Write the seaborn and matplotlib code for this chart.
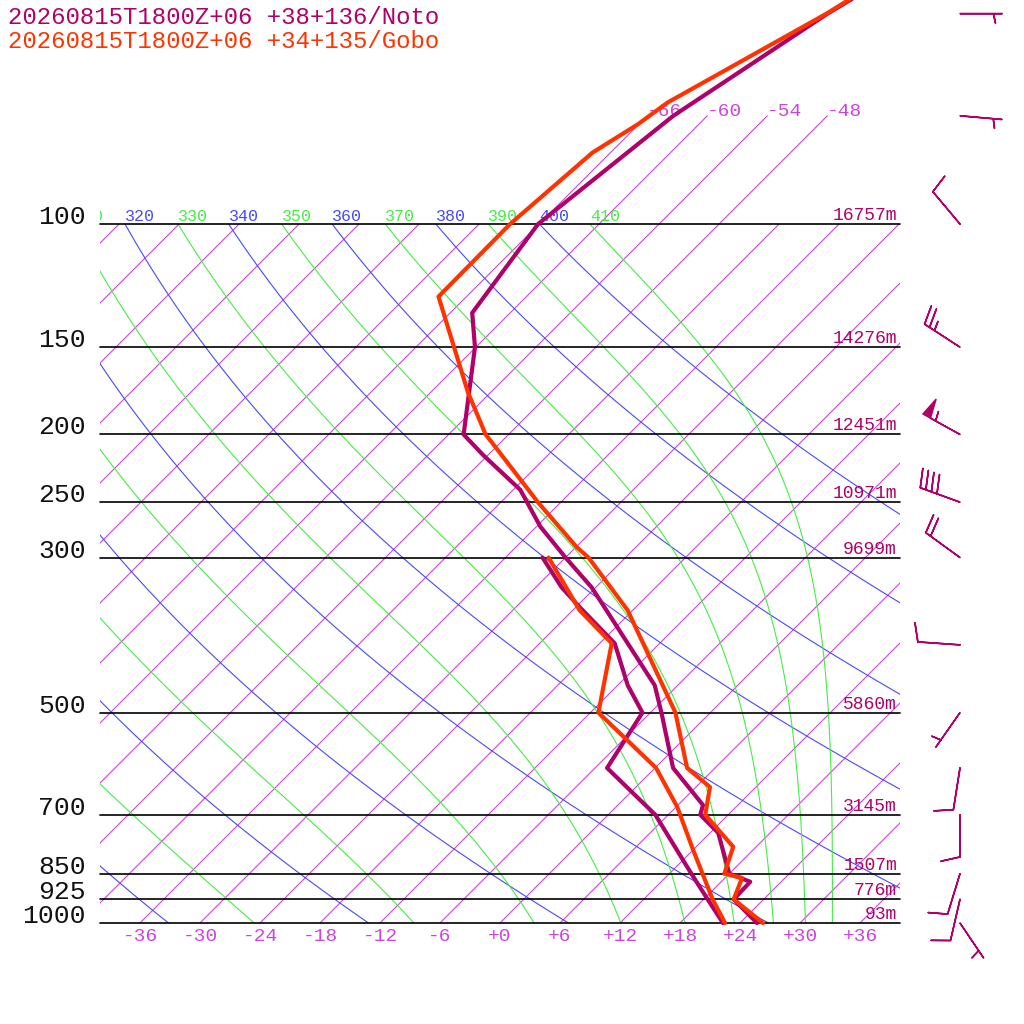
import numpy as np
import matplotlib
matplotlib.use('Agg')
import matplotlib.pyplot as plt
import matplotlib.transforms as mtransforms
from matplotlib.patches import Rectangle
import seaborn as sns

# x = T + SKEW*ln(1000/p): isotherms at 45 degrees
SKEW = 30.36

title_noto = '20260815T1800Z+06 +38+136/Noto'
title_gobo = '20260815T1800Z+06 +34+135/Gobo'

# Noto sounding
noto_t_p = [40, 50, 70, 100, 134, 150, 200, 214, 240, 271, 300, 331, 457, 500, 600, 678, 700, 743, 850, 873, 925, 1000]
noto_t = [-53.7, -58.2, -63.4, -66.1, -63.8, -60.1, -52.5, -48.5, -41.3, -35.6, -30.0, -24.4, -8.3, -4.9, 1.8, 8.5, 9.2, 12.8, 18.0, 20.9, 21.0, 25.7]
noto_td_p = [300, 331, 354, 398, 457, 500, 600, 700, 850, 925, 1000]
noto_td = [-32.3, -27.4, -23.5, -16.5, -11.0, -6.8, -4.8, 4.7, 14.2, 18.4, 22.3]

# Gobo sounding
gobo_t_p = [40, 50, 67, 72, 79, 100, 127, 174, 200, 206, 250, 290, 300, 357, 500, 600, 639, 700, 778, 850, 862, 925, 1000]
gobo_t = [-54.2, -58.3, -65.3, -66.1, -67.8, -68.9, -68.8, -56.3, -50.3, -48.7, -38.3, -29.9, -27.7, -18.5, -3.5, 3.2, 7.4, 9.7, 15.7, 17.5, 19.7, 21.0, 26.3]
gobo_td_p = [300, 357, 398, 500, 600, 682, 786, 925, 1000]
gobo_td = [-31.7, -23.3, -16.8, -11.2, 0.1, 6.1, 12.0, 18.9, 22.5]

# isobars and Noto heights
isobars = [100, 150, 200, 250, 300, 500, 700, 850, 925, 1000]
heights = ['16757m', '14276m', '12451m', '10971m', '9699m', '5860m', '3145m', '1507m', '776m', '93m']

# Noto winds (direction from, knots)
wind_p = [50, 70, 100, 150, 200, 250, 300, 400, 500, 600, 700, 850, 925, 1000]
wind_dir = [90, 95, 320, 303, 299, 290, 306, 274, 215, 189, 180, 197, 193, 146]
wind_spd = [5, 5, 10, 25, 55, 40, 20, 10, 5, 10, 10, 10, 10, 5]

isotherms = list(range(-114, 37, 6))
isotherm_labels = list(range(-36, 37, 6))
upper_isotherms = [-66, -60, -54, -48]
dry_thetas = list(range(240, 401, 20))
moist_thetas = list(range(250, 411, 20))

c_noto = '#b0006a'
c_gobo = '#ff3300'
c_iso = '#cc44dd'
c_dry = '#4848ff'
c_wet = '#44ee44'


def skx(t, p):
    return np.asarray(t, float) + SKEW * np.log(1000.0 / np.asarray(p, float))


def theta_e(tk, p):
    tc = tk - 273.15
    es = 6.112 * np.exp(17.67 * tc / (tc + 243.5))
    r = 0.622 * es / (p - es)
    rg = r * 1000
    th = tk * (1000.0 / p) ** (0.2854 * (1 - 0.28 * r))
    return th * np.exp((3.376 / tk - 0.00254) * rg * (1 + 0.81e-3 * rg))


def moist_temp(the, p):
    lo = np.full_like(p, 150.0)
    hi = np.full_like(p, 315.0)
    for _ in range(60):
        mid = 0.5 * (lo + hi)
        big = theta_e(mid, p) > the
        hi = np.where(big, mid, hi)
        lo = np.where(big, lo, mid)
    return 0.5 * (lo + hi) - 273.15


sns.set_style('white')
plt.rcParams['font.family'] = ['Liberation Mono', 'DejaVu Sans Mono']

fig = plt.figure(figsize=(10.24, 10.24), dpi=100)
ax = fig.add_axes([0, 0, 1, 1])
ax.set_yscale('log')
ax.set_xlim(-50, 52.4)
ax.set_ylim(1394.7, 47.8)
ax.axis('off')

box = Rectangle((-40, 100), 80, 900, transform=ax.transData, fill=False)
text_clip = mtransforms.TransformedBbox(mtransforms.Bbox([[-40, 0], [40, 1]]), ax.get_xaxis_transform())


def theta_label(x, th, col):
    # labels sit on the 100 hPa line, cut at the left edge of the diagram
    if x < -43.5:
        return
    txt = ax.text(x, 99, str(th), color=col, fontsize=12, ha='left', va='baseline', clip_on=True)
    txt.set_clip_box(text_clip)


pp = np.geomspace(1000, 100, 90)

for t in isotherms:
    ln, = ax.plot(skx(t, pp), pp, color=c_iso, lw=0.8)
    ln.set_clip_path(box)
pu = np.array([100.0, 70.0])
for t in upper_isotherms:
    ax.plot(skx(t, pu), pu, color=c_iso, lw=0.8)
    ax.text(skx(t, 70), 70, f'{t:+d}', color=c_iso, fontsize=14, ha='left', va='baseline')

for th in dry_thetas:
    tt = th * (pp / 1000.0) ** 0.2857 - 273.15
    ln, = ax.plot(skx(tt, pp), pp, color=c_dry, lw=0.8)
    ln.set_clip_path(box)
    theta_label(skx(tt[-1], 100), th, c_dry)

for th in moist_thetas:
    tt = moist_temp(float(th), pp)
    ln, = ax.plot(skx(tt, pp), pp, color=c_wet, lw=0.8)
    ln.set_clip_path(box)
    theta_label(skx(tt[-1], 100), th, c_wet)

for p, h in zip(isobars, heights):
    ax.plot([-40, 40], [p, p], color='black', lw=1.2)
    ax.text(-41.4, p, str(p), fontsize=19, ha='right', va='baseline', color='#111111')
    ax.text(39.7, p, h, fontsize=13, ha='right', va='bottom', color=c_noto)

for t in isotherm_labels:
    lab = '+0' if t == 0 else f'{t:+d}'
    ax.text(t, 1047, lab, color=c_iso, fontsize=14, ha='center', va='center')

# soundings
sns.lineplot(x=skx(noto_t, noto_t_p), y=noto_t_p, sort=False, estimator=None, color=c_noto, lw=3, ax=ax, zorder=5)
sns.lineplot(x=skx(noto_td, noto_td_p), y=noto_td_p, sort=False, estimator=None, color=c_noto, lw=3, ax=ax, zorder=5)
sns.lineplot(x=skx(gobo_t, gobo_t_p), y=gobo_t_p, sort=False, estimator=None, color=c_gobo, lw=3, ax=ax, zorder=6)
sns.lineplot(x=skx(gobo_td, gobo_td_p), y=gobo_td_p, sort=False, estimator=None, color=c_gobo, lw=3, ax=ax, zorder=6)

# wind barbs
wd = np.deg2rad(wind_dir)
ws = np.array(wind_spd, float)
u = -ws * np.sin(wd)
v = -ws * np.cos(wd)
ax.barbs(np.full(len(wind_p), 46.0), wind_p, u, v, length=7.8, pivot='tip',
         color=c_noto, linewidth=1.15, sizes=dict(height=0.45, width=0.2, spacing=0.14))

ax.set_xlim(-50, 52.4)
ax.set_ylim(1394.7, 47.8)

fig.text(8 / 1024, 1 - 17 / 1024, title_noto, color=c_noto, fontsize=17.3, ha='left', va='center')
fig.text(8 / 1024, 1 - 41 / 1024, title_gobo, color=c_gobo, fontsize=17.3, ha='left', va='center')

fig.savefig('out.png', dpi=100, facecolor='white')
